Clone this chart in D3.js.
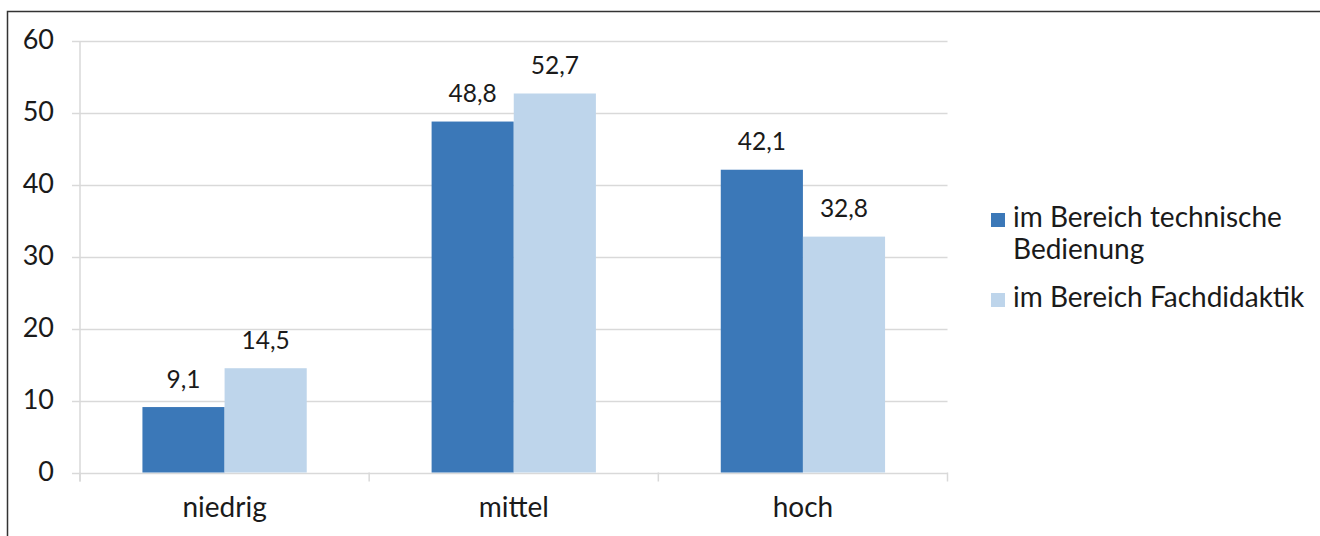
<!DOCTYPE html>
<html>
<head>
<meta charset="utf-8">
<script src="https://cdn.jsdelivr.net/npm/d3@7"></script>
<style>
  html, body { margin: 0; padding: 0; background: #fff; }
  svg { display: block; }
  text { font-family: Lato, "Open Sans", sans-serif; fill: #1a1a1a; }
</style>
</head>
<body>
<svg id="chart" width="1320" height="536"></svg>
<script>
// Chart data
const categories = ["niedrig", "mittel", "hoch"];
const seriesNames = ["im Bereich technische Bedienung", "im Bereich Fachdidaktik"];
const technischeBedienung = [9.1, 48.8, 42.1];
const fachdidaktik = [14.5, 52.7, 32.8];
const yTicks = [0, 10, 20, 30, 40, 50, 60];
const legendLines = [["im Bereich technische", "Bedienung"], ["im Bereich Fachdidaktik"]];

const colors = ["#3B78B8", "#BED5EB"];
const series = [technischeBedienung, fachdidaktik];

const svg = d3.select("#chart");
const W = 1320, H = 536;

// outer frame (top and left edges visible)
svg.append("rect")
  .attr("x", 7.5).attr("y", 11.5)
  .attr("width", W + 10).attr("height", H + 10)
  .attr("fill", "none").attr("stroke", "#333").attr("stroke-width", 1.5);

const plot = { left: 80, right: 947.5, top: 41, bottom: 472.5 };

const x = d3.scaleBand().domain(categories)
  .range([plot.left, plot.right]).paddingInner(0).paddingOuter(0);
const y = d3.scaleLinear().domain([0, 60]).range([plot.bottom, plot.top]);

const xs = d3.scaleBand().domain(d3.range(series.length))
  .range([0, x.bandwidth()]).paddingInner(0).paddingOuter(0.76);

// horizontal gridlines
svg.append("g").selectAll("line").data(yTicks).join("line")
  .attr("x1", 72).attr("x2", plot.right)
  .attr("y1", d => Math.round(y(d)) + 0.5).attr("y2", d => Math.round(y(d)) + 0.5)
  .attr("stroke", "#D9D9D9").attr("stroke-width", 1.5);

// vertical axis line
svg.append("line")
  .attr("x1", plot.left).attr("x2", plot.left)
  .attr("y1", y(60)).attr("y2", plot.bottom + 9)
  .attr("stroke", "#D9D9D9").attr("stroke-width", 1.5);

// category boundary ticks
const boundaries = categories.map(c => x(c)).concat([plot.right]);
svg.append("g").selectAll("line").data(boundaries).join("line")
  .attr("x1", d => d).attr("x2", d => d)
  .attr("y1", plot.bottom).attr("y2", plot.bottom + 9)
  .attr("stroke", "#D9D9D9").attr("stroke-width", 1.5);

// y tick labels
svg.append("g").selectAll("text").data(yTicks).join("text")
  .attr("x", 54).attr("y", d => y(d))
  .attr("dy", "0.3em")
  .attr("text-anchor", "end")
  .attr("font-size", 27)
  .text(d => d);

// bars with value labels
series.forEach((vals, si) => {
  const g = svg.append("g");
  g.selectAll("rect").data(vals).join("rect")
    .attr("x", (d, i) => x(categories[i]) + xs(si))
    .attr("width", xs.bandwidth())
    .attr("y", d => y(d))
    .attr("height", d => y(0) - y(d))
    .attr("fill", colors[si]);
  g.selectAll("text").data(vals).join("text")
    .attr("x", (d, i) => x(categories[i]) + xs(si) + xs.bandwidth() / 2)
    .attr("y", d => y(d) - 19.5)
    .attr("text-anchor", "middle")
    .attr("font-size", 24.5)
    .text(d => d.toFixed(1).replace(".", ","));
});

// category labels
svg.append("g").selectAll("text").data(categories).join("text")
  .attr("x", d => x(d) + x.bandwidth() / 2)
  .attr("y", 517)
  .attr("text-anchor", "middle")
  .attr("font-size", 28)
  .text(d => d);

// legend
const legendY = [227, 307];
const legend = svg.append("g");
seriesNames.forEach((name, i) => {
  legend.append("rect")
    .attr("x", 991).attr("y", legendY[i] - 14)
    .attr("width", 14).attr("height", 14)
    .attr("fill", colors[i]);
  const t = legend.append("text")
    .attr("x", 1013).attr("y", legendY[i])
    .attr("font-size", 28);
  legendLines[i].forEach((ln, j) => {
    t.append("tspan").attr("x", 1013).attr("dy", j === 0 ? 0 : 32).text(ln);
  });
});
</script>
</body>
</html>
